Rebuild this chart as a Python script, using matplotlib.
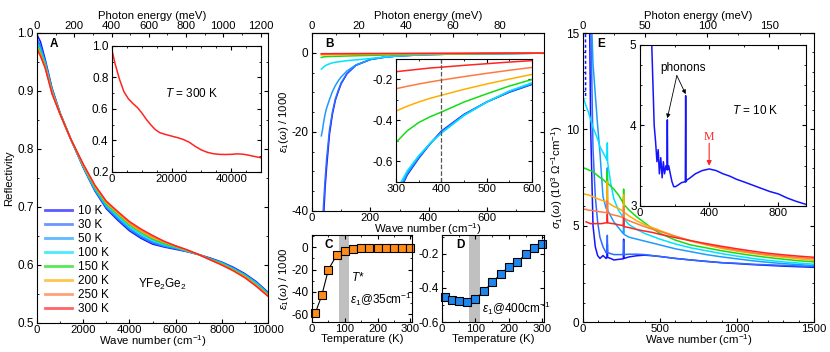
import numpy as np
import matplotlib
matplotlib.use('Agg')
import matplotlib.pyplot as plt
from matplotlib.ticker import MultipleLocator

plt.rcParams['font.family'] = ['Liberation Sans', 'DejaVu Sans']
plt.rcParams['font.size'] = 8.5
plt.rcParams['axes.labelsize'] = 8.2
plt.rcParams['xtick.labelsize'] = 8.2
plt.rcParams['axes.unicode_minus'] = False
plt.rcParams['mathtext.fontset'] = 'custom'
plt.rcParams['mathtext.rm'] = 'Liberation Sans'
plt.rcParams['mathtext.it'] = 'Liberation Sans:italic'
plt.rcParams['mathtext.bf'] = 'Liberation Sans:bold'
plt.rcParams['axes.linewidth'] = 0.8
plt.rcParams['xtick.major.size'] = 3
plt.rcParams['ytick.major.size'] = 3
plt.rcParams['xtick.minor.size'] = 1.6
plt.rcParams['ytick.minor.size'] = 1.6
plt.rcParams['xtick.major.pad'] = 1.2
plt.rcParams['ytick.major.pad'] = 2.5

CM_PER_MEV = 8.0655

temps = ['10 K', '30 K', '50 K', '100 K', '150 K', '200 K', '250 K', '300 K']
colors = ['#1414ff', '#2f6bff', '#1a9cff', '#00e2ff', '#14dc14', '#ffae00', '#ff7a40', '#ff2424']

# ---- panel A: reflectivity ----
refl_x = [0, 150, 350, 650, 1000, 1450, 2000, 2500, 3000, 3500, 4000, 4500, 5000,
          5500, 6000, 6500, 7000, 7500, 8000, 8500, 9000, 9500, 10000]
refl_10 = [0.997, 0.985, 0.955, 0.905, 0.862, 0.818, 0.768, 0.728, 0.697, 0.677, 0.659, 0.646,
           0.636, 0.631, 0.627, 0.623, 0.618, 0.612, 0.605, 0.596, 0.585, 0.571, 0.553]
refl_30 = [0.99, 0.978, 0.952, 0.903, 0.862, 0.818, 0.769, 0.729, 0.699, 0.679, 0.661, 0.648,
           0.638, 0.632, 0.628, 0.623, 0.618, 0.611, 0.604, 0.595, 0.584, 0.570, 0.552]
refl_50 = [0.985, 0.974, 0.95, 0.902, 0.861, 0.818, 0.769, 0.73, 0.7, 0.681, 0.663, 0.65,
           0.64, 0.633, 0.629, 0.624, 0.618, 0.611, 0.604, 0.594, 0.583, 0.569, 0.551]
refl_100 = [0.982, 0.97, 0.947, 0.9, 0.861, 0.818, 0.77, 0.732, 0.703, 0.684, 0.666, 0.653,
            0.643, 0.635, 0.63, 0.624, 0.618, 0.610, 0.603, 0.593, 0.582, 0.568, 0.55]
refl_150 = [0.979, 0.967, 0.945, 0.899, 0.861, 0.818, 0.771, 0.734, 0.705, 0.687, 0.669, 0.656,
            0.645, 0.637, 0.631, 0.625, 0.618, 0.610, 0.602, 0.592, 0.581, 0.566, 0.549]
refl_200 = [0.976, 0.964, 0.943, 0.898, 0.86, 0.818, 0.772, 0.736, 0.707, 0.689, 0.671, 0.658,
            0.647, 0.639, 0.632, 0.625, 0.618, 0.609, 0.601, 0.591, 0.58, 0.565, 0.548]
refl_250 = [0.974, 0.962, 0.941, 0.896, 0.86, 0.818, 0.773, 0.737, 0.709, 0.691, 0.673, 0.66,
            0.649, 0.64, 0.633, 0.626, 0.618, 0.609, 0.6, 0.59, 0.579, 0.564, 0.547]
refl_300 = [0.972, 0.96, 0.94, 0.895, 0.86, 0.818, 0.774, 0.738, 0.71, 0.692, 0.675, 0.662,
            0.651, 0.641, 0.633, 0.626, 0.618, 0.609, 0.6, 0.59, 0.578, 0.563, 0.546]

# inset A: 300 K wide range
reflw_x = [0, 1000, 2500, 4000, 5500, 7000, 8500, 10000, 11500, 13000, 14500, 16000, 18000,
           20000, 22000, 24000, 26000, 28000, 30000, 32000, 34000, 36000, 38000, 40000,
           42000, 44000, 46000, 48000, 50000]
reflw_300 = [0.975, 0.89, 0.79, 0.71, 0.665, 0.635, 0.61, 0.575, 0.535, 0.5, 0.47, 0.45, 0.438,
             0.428, 0.418, 0.406, 0.388, 0.362, 0.34, 0.325, 0.316, 0.312, 0.311, 0.312,
             0.315, 0.313, 0.306, 0.298, 0.29]

# ---- panel B: eps1 / 1000 ----
eps_x = [32, 36, 40, 45, 50, 60, 70, 80, 90, 100, 120, 150, 200, 250, 300, 400, 500, 600, 700, 800]
eps_10 = [-62, -55, -41, -34, -29, -20.5, -15.5, -12, -9.8, -7.8, -5.3, -3.2, -1.7, -1.1, -0.78,
          -0.452, -0.31, -0.224, -0.16, -0.1]
eps_30 = [-46, -43, -38, -32, -27, -19.5, -15, -11.7, -9.5, -7.6, -5.2, -3.15, -1.7, -1.1, -0.775,
          -0.455, -0.31, -0.222, -0.16, -0.1]
eps_50 = [-21, -19.5, -17.5, -15.5, -14, -11.8, -9.8, -8.3, -7.1, -6.1, -4.6, -3.1, -1.7, -1.08,
          -0.765, -0.46, -0.31, -0.22, -0.16, -0.1]
eps_100 = [-4.1, -3.9, -3.6, -3.3, -3.1, -2.8, -2.55, -2.4, -2.3, -2.2, -2.0, -1.8, -1.45, -1.05,
           -0.745, -0.462, -0.31, -0.216, -0.155, -0.1]
eps_150 = [-1.2, -1.1, -1.05, -1.0, -0.98, -0.95, -0.92, -0.9, -0.88, -0.86, -0.82, -0.76, -0.67,
           -0.58, -0.507, -0.359, -0.27, -0.2, -0.15, -0.1]
eps_200 = [-0.55, -0.54, -0.53, -0.52, -0.51, -0.5, -0.49, -0.48, -0.47, -0.46, -0.44, -0.42, -0.39,
           -0.37, -0.354, -0.277, -0.222, -0.175, -0.14, -0.1]
eps_250 = [-0.35, -0.34, -0.34, -0.33, -0.33, -0.32, -0.31, -0.31, -0.3, -0.3, -0.29, -0.28, -0.26,
           -0.25, -0.245, -0.203, -0.17, -0.141, -0.12, -0.09]
eps_300 = [-0.25, -0.25, -0.24, -0.24, -0.23, -0.23, -0.22, -0.22, -0.21, -0.21, -0.2, -0.19, -0.18,
           -0.17, -0.162, -0.14, -0.123, -0.108, -0.1, -0.08]

# inset B: zoom 300-600 cm-1
epsz_x = [300, 325, 350, 375, 400, 450, 500, 550, 600]
epsz_10 = [-0.78, -0.665, -0.585, -0.515, -0.452, -0.37, -0.31, -0.262, -0.224]
epsz_30 = [-0.775, -0.66, -0.58, -0.512, -0.455, -0.372, -0.31, -0.26, -0.222]
epsz_50 = [-0.765, -0.655, -0.578, -0.513, -0.46, -0.374, -0.31, -0.258, -0.22]
epsz_100 = [-0.745, -0.645, -0.572, -0.512, -0.462, -0.376, -0.31, -0.256, -0.216]
epsz_150 = [-0.507, -0.45, -0.41, -0.382, -0.359, -0.31, -0.27, -0.232, -0.2]
epsz_200 = [-0.354, -0.33, -0.31, -0.292, -0.277, -0.248, -0.222, -0.198, -0.175]
epsz_250 = [-0.245, -0.233, -0.222, -0.212, -0.203, -0.186, -0.17, -0.155, -0.141]
epsz_300 = [-0.162, -0.156, -0.15, -0.144, -0.14, -0.131, -0.123, -0.115, -0.108]

# ---- panels C, D: eps1 vs temperature ----
t_pts = [10, 30, 50, 75, 100, 125, 150, 175, 200, 225, 250, 275, 300]
eps35 = [-59, -43, -20, -7.2, -3.6, -1.5, -1.0, -1.0, -0.6, -0.4, -0.3, -0.5, -0.3]
eps400 = [-0.456, -0.47, -0.475, -0.48, -0.466, -0.42, -0.368, -0.32, -0.276, -0.248, -0.204,
          -0.168, -0.144]
tstar_band = [82, 114]

# ---- panel E: sigma1 in 10^3 Ohm^-1 cm^-1 ----
sig_x = [5, 20, 35, 50, 65, 80, 95, 110, 130, 150, 156, 158, 160, 180, 200, 230, 260, 262, 264,
         266, 300, 350, 400, 450, 500, 600, 700, 800, 900, 1000, 1100, 1200, 1300, 1400, 1500]
nan = np.nan
sig_10 = [nan, nan, 22, 10, 5.0, 3.9, 3.45, 3.3, 3.45, 3.3, 3.35, 4.05, 3.35, 3.3, 3.22, 3.25, 3.28,
          3.28, 4.3, 3.3, 3.38, 3.44, 3.47, 3.44, 3.4, 3.3, 3.22, 3.15, 3.08, 3.03, 2.98, 2.94,
          2.9, 2.87, 2.84]
sig_30 = [nan, nan, 30, 16, 9, 6.5, 5.2, 4.4, 3.9, 3.6, 3.6, 4.5, 3.6, 3.55, 3.5, 3.5, 3.5, 3.5,
          4.2, 3.5, 3.52, 3.52, 3.5, 3.45, 3.4, 3.3, 3.22, 3.14, 3.08, 3.05, 3.0, 2.97, 2.94,
          2.91, 2.89]
sig_50 = [nan, nan, 25, 17, 13.4, 11.8, 10.2, 8.8, 6.5, 5.9, 5.85, 8.0, 5.8, 5.5, 5.2, 4.9, 4.6,
          4.6, 5.4, 4.55, 4.4, 4.3, 4.2, 4.1, 4.0, 3.8, 3.65, 3.5, 3.38, 3.28, 3.18, 3.1, 3.03,
          2.98, 2.93]
sig_100 = [11.6, 11.2, 10.9, 10.5, 10.1, 9.8, 9.5, 9.1, 8.8, 8.5, 8.4, 9.3, 8.3, 7.2, 6.4, 5.8,
           5.45, 5.4, 6.5, 5.35, 5.05, 4.8, 4.6, 4.45, 4.3, 4.05, 3.85, 3.7, 3.55, 3.42, 3.3,
           3.2, 3.12, 3.06, 3.0]
sig_150 = [8.0, 7.95, 7.9, 7.85, 7.8, 7.7, 7.6, 7.5, 7.4, 7.25, 7.2, 7.8, 7.2, 7.05, 6.9, 6.6,
           6.2, 6.15, 6.9, 6.1, 5.8, 5.45, 5.15, 4.85, 4.6, 4.25, 4.0, 3.85, 3.7, 3.57, 3.45,
           3.35, 3.26, 3.18, 3.12]
sig_200 = [6.65, 6.62, 6.6, 6.55, 6.5, 6.45, 6.4, 6.35, 6.3, 6.25, 6.24, 7.3, 6.2, 6.1, 6.0, 5.9,
           5.75, 5.75, 6.6, 5.7, 5.5, 5.25, 5.05, 4.9, 4.75, 4.45, 4.2, 4.0, 3.82, 3.68, 3.56,
           3.45, 3.36, 3.28, 3.2]
sig_250 = [5.85, 5.85, 5.8, 5.8, 5.78, 5.76, 5.74, 5.72, 5.7, 5.68, 5.67, 6.3, 5.66, 5.6, 5.55,
           5.5, 5.42, 5.4, 6.0, 5.38, 5.25, 5.1, 4.95, 4.82, 4.7, 4.45, 4.22, 4.03, 3.87, 3.73,
           3.6, 3.5, 3.42, 3.35, 3.28]
sig_300 = [nan, 5.2, 5.15, 5.1, 5.12, 5.1, 5.12, 5.1, 5.12, 5.15, 5.15, 5.6, 5.15, 5.12, 5.1,
           5.05, 5.0, 5.0, 5.4, 4.95, 4.9, 4.8, 4.72, 4.65, 4.55, 4.38, 4.22, 4.07, 3.93, 3.8,
           3.68, 3.57, 3.49, 3.42, 3.36]
drude_x = [16, 17]
drude_y = [15.5, 11.6]

# inset E: 10 K
sigz_x = [55, 62, 68, 75, 82, 90, 98, 105, 112, 120, 128, 135, 142, 150, 156, 158, 160, 166, 175,
          185, 195, 205, 220, 240, 258, 262, 264, 266, 270, 290, 320, 360, 400, 440, 480, 520,
          560, 600, 650, 700, 750, 800, 850, 900, 960]
sigz_10 = [6.5, 5.5, 5.0, 4.5, 4.0, 3.8, 3.55, 3.7, 3.4, 3.6, 3.35, 3.55, 3.4, 3.5, 3.45, 4.07,
           3.45, 3.5, 3.4, 3.3, 3.24, 3.24, 3.26, 3.29, 3.3, 3.3, 4.37, 3.3, 3.32, 3.35, 3.4,
           3.44, 3.46, 3.44, 3.4, 3.37, 3.33, 3.3, 3.26, 3.22, 3.18, 3.15, 3.1, 3.06, 3.02]

# top-axis ticks in meV
mev_ticks_A = [0, 200, 400, 600, 800, 1000, 1200]
mev_ticks_B = [0, 20, 40, 60, 80]
mev_ticks_E = [0, 50, 100, 150]


def style(ax, top=True):
    ax.tick_params(which='both', direction='in', top=top, right=True)


def energy_axis(ax, ticks, minor):
    sec = ax.secondary_xaxis('top', functions=(lambda x: x / CM_PER_MEV, lambda e: e * CM_PER_MEV))
    sec.set_xlabel('Photon energy (meV)', labelpad=2)
    sec.set_xticks(ticks)
    sec.set_xticks(minor, minor=True)
    sec.tick_params(which='both', direction='in')
    return sec


wn_label = 'Wave number (cm$^{-1}$)'
eps_label = r'$\varepsilon_1(\omega)$ / 1000'
fig = plt.figure(figsize=(8.3, 3.52), dpi=100)

# panel A
axA = fig.add_axes([0.0446, 0.0824, 0.2783, 0.8239])
for lab, col, r in zip(temps, colors, [refl_10, refl_30, refl_50, refl_100, refl_150,
                                       refl_200, refl_250, refl_300]):
    axA.plot(refl_x, r, color=col, lw=1.1, label=lab)
axA.set_xlim(0, 10000)
axA.set_ylim(0.5, 1.0)
axA.xaxis.set_major_locator(MultipleLocator(2000))
axA.xaxis.set_minor_locator(MultipleLocator(1000))
axA.yaxis.set_major_locator(MultipleLocator(0.1))
axA.yaxis.set_minor_locator(MultipleLocator(0.05))
style(axA, top=False)
axA.set_xlabel(wn_label, labelpad=-1)
axA.set_ylabel('Reflectivity', labelpad=2)
energy_axis(axA, mev_ticks_A, np.arange(100, 1240, 200))
leg = axA.legend(loc='lower left', bbox_to_anchor=(0.0, 0.0), frameon=False, handlelength=2.3,
                 handletextpad=0.5, labelspacing=0.17, borderaxespad=0.3)
for ln in leg.get_lines():
    ln.set_linewidth(2)
    ln.set_alpha(0.7)
axA.text(0.056, 0.962, 'A', transform=axA.transAxes, fontweight='bold', va='center')
axA.text(4370, 0.566, 'YFe$_2$Ge$_2$', ha='left', va='center')

axAi = fig.add_axes([0.1349, 0.5114, 0.1795, 0.358])
axAi.plot(reflw_x, reflw_300, color=colors[-1], lw=1.1)
axAi.set_xlim(0, 50000)
axAi.set_ylim(0.2, 1.0)
axAi.xaxis.set_major_locator(MultipleLocator(20000))
axAi.xaxis.set_minor_locator(MultipleLocator(5000))
axAi.yaxis.set_major_locator(MultipleLocator(0.2))
axAi.yaxis.set_minor_locator(MultipleLocator(0.1))
style(axAi)
axAi.text(26800, 0.70, '$T$ = 300 K', ha='center', va='center')

# panel B
axB = fig.add_axes([0.3759, 0.4006, 0.2795, 0.5057])
for col, e in zip(colors, [eps_10, eps_30, eps_50, eps_100, eps_150, eps_200, eps_250, eps_300]):
    axB.plot(eps_x, e, color=col, lw=1.1)
axB.set_xlim(0, 795)
axB.set_ylim(-40, 5)
axB.xaxis.set_major_locator(MultipleLocator(200))
axB.xaxis.set_minor_locator(MultipleLocator(100))
axB.yaxis.set_major_locator(MultipleLocator(20))
axB.yaxis.set_minor_locator(MultipleLocator(5))
style(axB, top=False)
axB.set_xlabel(wn_label, labelpad=-1)
axB.set_ylabel(eps_label, labelpad=0)
energy_axis(axB, mev_ticks_B, np.arange(10, 99, 20))
axB.text(0.056, 0.938, 'B', transform=axB.transAxes, fontweight='bold', va='center')

axBi = fig.add_axes([0.4771, 0.483, 0.1639, 0.3494])
for col, e in zip(colors, [epsz_10, epsz_30, epsz_50, epsz_100, epsz_150, epsz_200, epsz_250,
                           epsz_300]):
    axBi.plot(epsz_x, e, color=col, lw=1.1)
axBi.axvline(400, color='#555555', ls='--', lw=0.9)
axBi.set_xlim(300, 600)
axBi.set_ylim(-0.7, -0.1)
axBi.xaxis.set_major_locator(MultipleLocator(100))
axBi.xaxis.set_minor_locator(MultipleLocator(50))
axBi.yaxis.set_major_locator(MultipleLocator(0.2))
axBi.yaxis.set_minor_locator(MultipleLocator(0.1))
style(axBi)

# panel C
axC = fig.add_axes([0.3759, 0.0852, 0.1205, 0.2472])
axC.axvspan(tstar_band[0], tstar_band[1], color='#c0c0c0', lw=0)
axC.plot(t_pts, eps35, color='k', lw=0.8, marker='s', ms=5.5, mfc='#ff8c1a', mec='k', mew=0.8,
         clip_on=False)
axC.set_xlim(0, 305)
axC.set_ylim(-67, 11)
axC.xaxis.set_major_locator(MultipleLocator(100))
axC.xaxis.set_minor_locator(MultipleLocator(50))
axC.yaxis.set_major_locator(MultipleLocator(20))
axC.yaxis.set_minor_locator(MultipleLocator(10))
style(axC)
axC.set_xlabel('Temperature (K)', labelpad=0)
axC.set_ylabel(eps_label, labelpad=0)
axC.text(0.13, 0.885, 'C', transform=axC.transAxes, fontweight='bold', va='center')
axC.text(120, -27, '$T$*', ha='left', va='center')
axC.text(117, -47, r'$\varepsilon_1$@35cm$^{-1}$', ha='left', va='center')

# panel D
axD = fig.add_axes([0.5325, 0.0852, 0.1229, 0.2472])
axD.axvspan(tstar_band[0], tstar_band[1], color='#c0c0c0', lw=0)
axD.plot(t_pts, eps400, color='k', lw=0.8, marker='s', ms=5.5, mfc='#1f86f0', mec='k', mew=0.8,
         clip_on=False)
axD.set_xlim(0, 305)
axD.set_ylim(-0.6, -0.09)
axD.xaxis.set_major_locator(MultipleLocator(100))
axD.xaxis.set_minor_locator(MultipleLocator(50))
axD.yaxis.set_major_locator(MultipleLocator(0.2))
axD.yaxis.set_minor_locator(MultipleLocator(0.1))
style(axD)
axD.set_xlabel('Temperature (K)', labelpad=0)
axD.text(0.137, 0.885, 'D', transform=axD.transAxes, fontweight='bold', va='center')
axD.text(120, -0.52, r'$\varepsilon_1$@400cm$^{-1}$', ha='left', va='center')

# panel E
axE = fig.add_axes([0.7024, 0.0852, 0.2783, 0.821])
for col, s in zip(colors, [sig_10, sig_30, sig_50, sig_100, sig_150, sig_200, sig_250, sig_300]):
    axE.plot(sig_x, s, color=col, lw=1.1)
axE.plot(drude_x, drude_y, color=colors[0], lw=1.1, ls=(0, (2, 1.5)))
axE.set_xlim(0, 1500)
axE.set_ylim(0, 15)
axE.xaxis.set_major_locator(MultipleLocator(500))
axE.xaxis.set_minor_locator(MultipleLocator(100))
axE.yaxis.set_major_locator(MultipleLocator(5))
axE.yaxis.set_minor_locator(MultipleLocator(1))
style(axE, top=False)
axE.set_xlabel(wn_label, labelpad=-1)
axE.set_ylabel(r'$\sigma_1(\omega)$ (10$^3$ $\Omega^{-1}$cm$^{-1}$)', labelpad=1)
energy_axis(axE, mev_ticks_E, np.arange(25, 186, 50))
axE.text(0.06, 0.962, 'E', transform=axE.transAxes, fontweight='bold', va='center')

axEi = fig.add_axes([0.7711, 0.4148, 0.2, 0.4574])
axEi.plot(sigz_x, sigz_10, color=colors[0], lw=1.1)
axEi.set_xlim(0, 960)
axEi.set_ylim(3, 5)
axEi.xaxis.set_major_locator(MultipleLocator(400))
axEi.xaxis.set_minor_locator(MultipleLocator(200))
axEi.yaxis.set_major_locator(MultipleLocator(1))
axEi.yaxis.set_minor_locator(MultipleLocator(0.25))
style(axEi)
axEi.text(251, 4.71, 'phonons', ha='center', va='center')
for px, py in [(158, 4.09), (264, 4.39)]:
    axEi.annotate('', xy=(px, py), xytext=(213, 4.62),
                  arrowprops=dict(arrowstyle='-|>', color='k', lw=0.6, mutation_scale=6,
                                  shrinkA=0, shrinkB=0))
axEi.annotate('', xy=(400, 3.5), xytext=(400, 3.78),
              arrowprops=dict(arrowstyle='-|>', color='#ff2424', lw=0.8, mutation_scale=7,
                              shrinkA=0, shrinkB=0))
axEi.text(400, 3.86, 'M', color='#ff2424', ha='center', va='center', family='Liberation Serif')
axEi.text(667, 4.19, '$T$ = 10 K', ha='center', va='center')

fig.savefig('out.png', dpi=100)
